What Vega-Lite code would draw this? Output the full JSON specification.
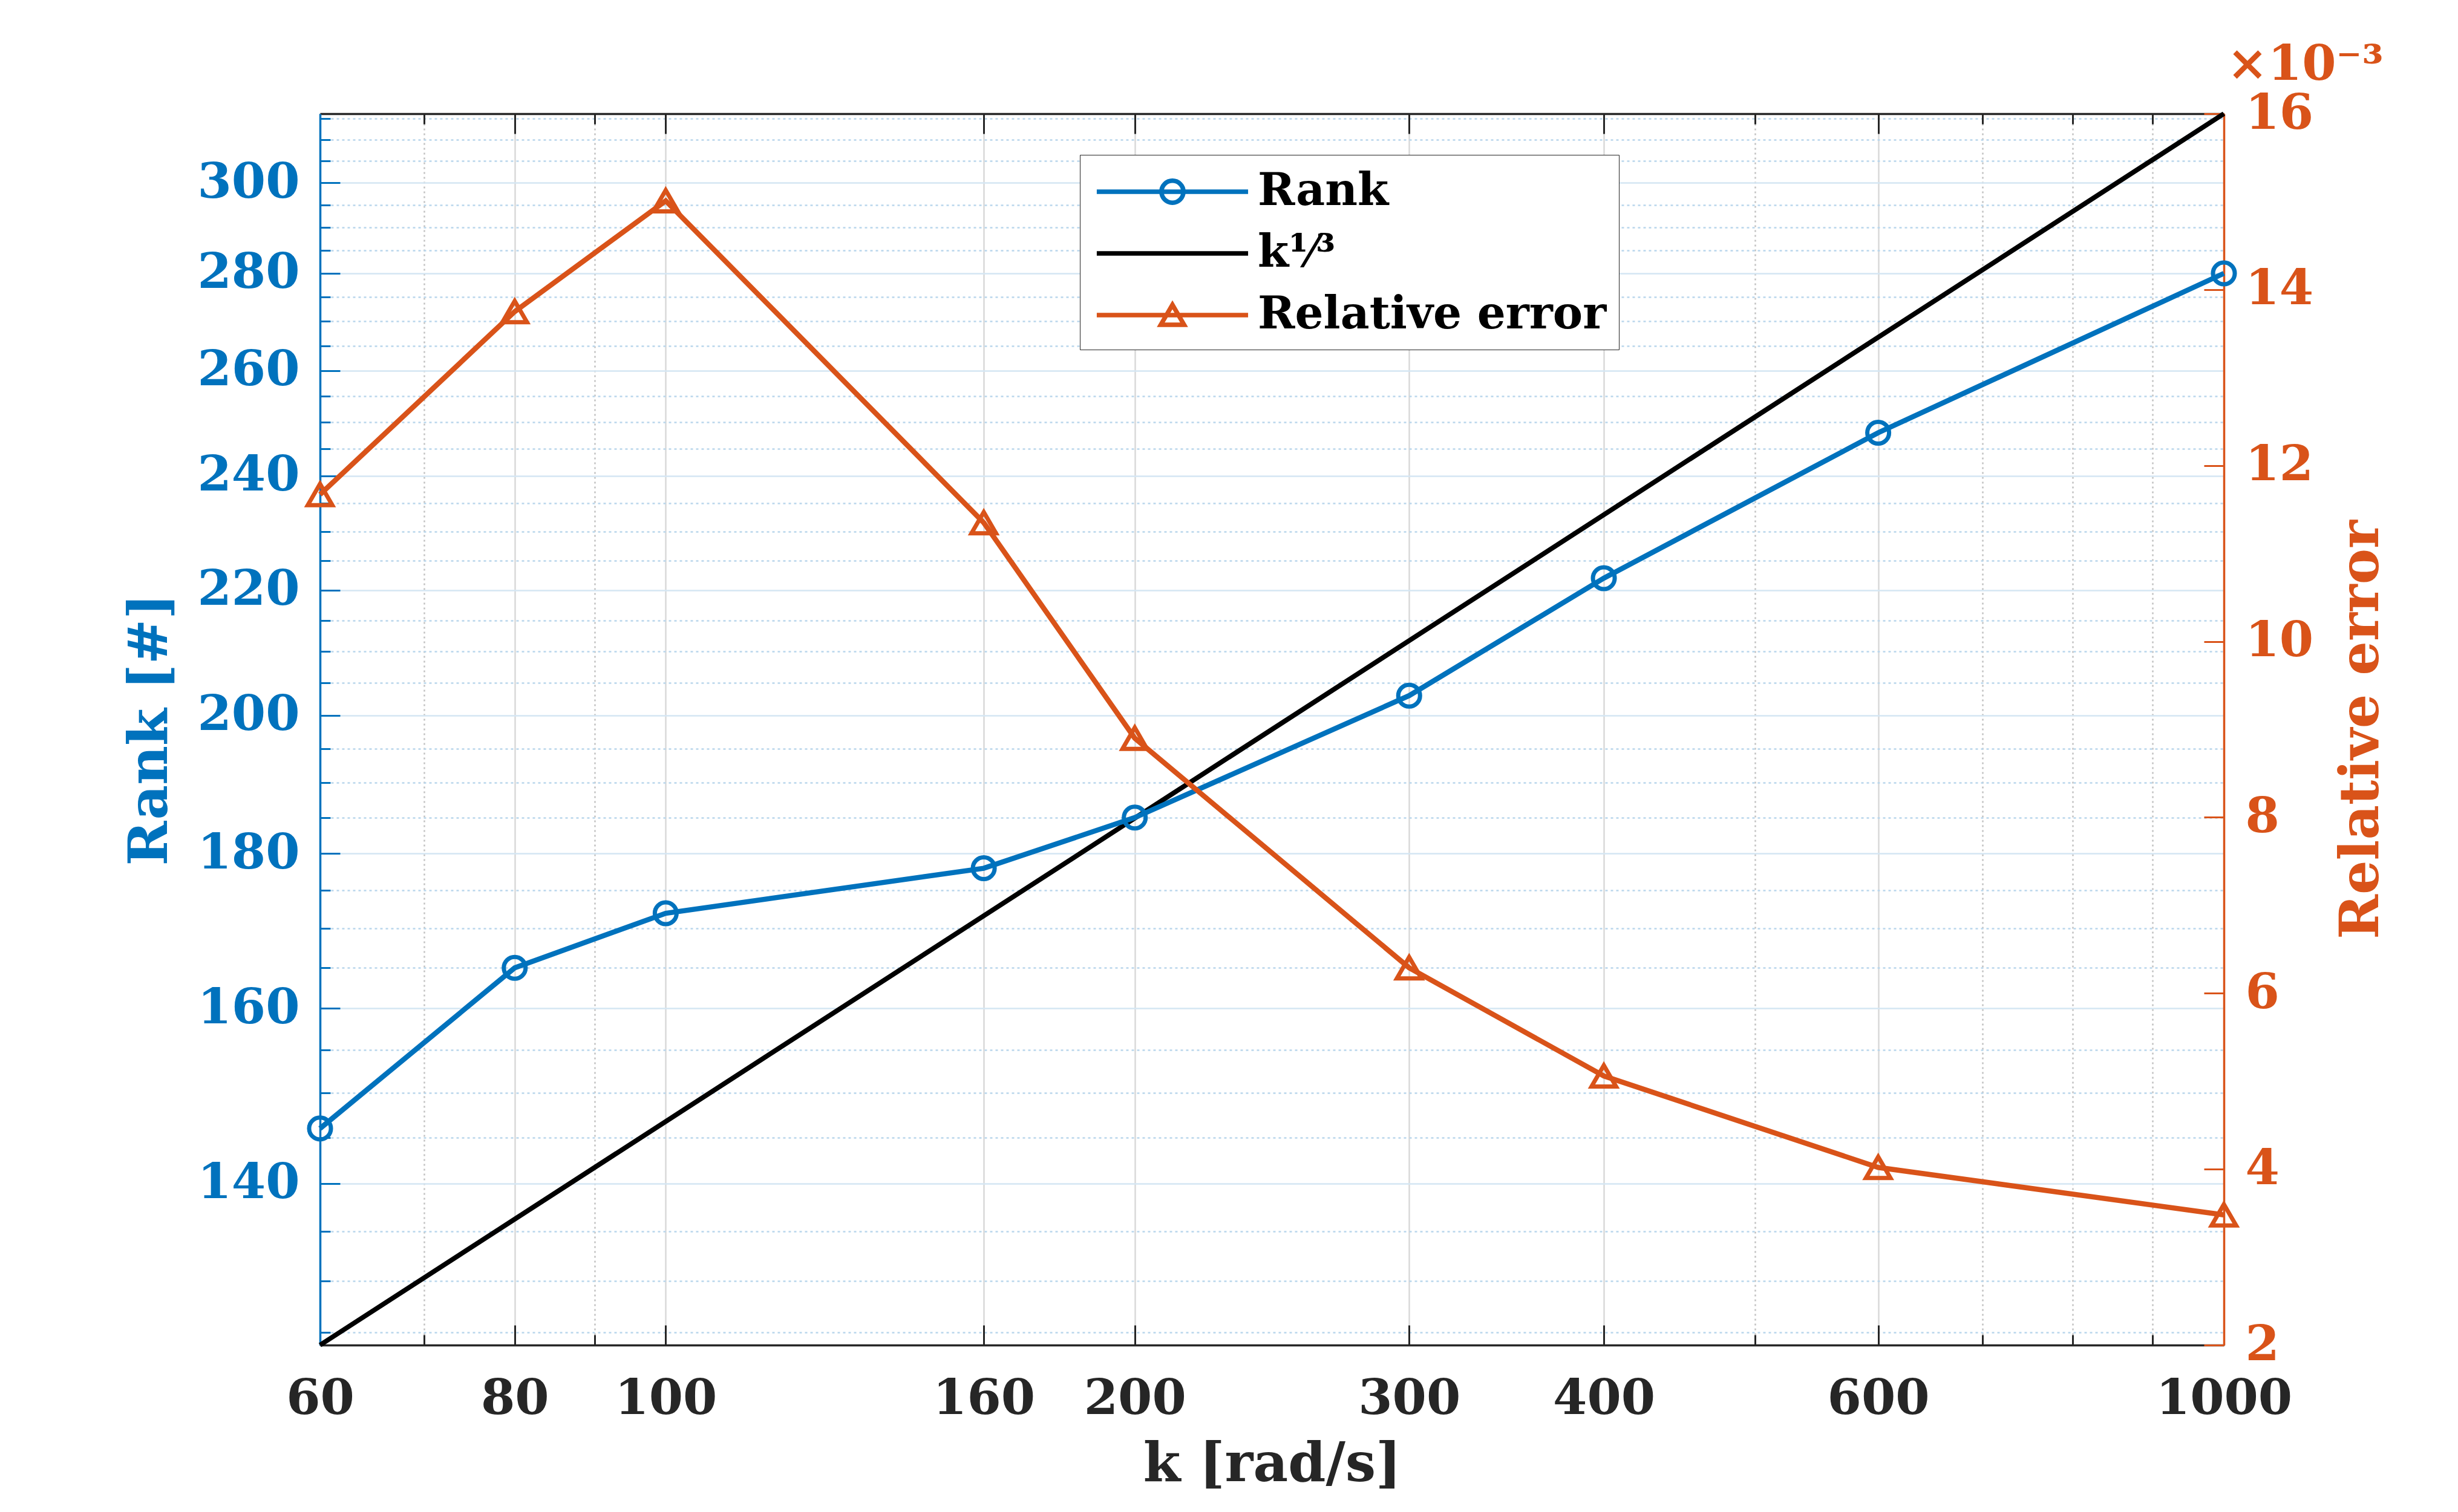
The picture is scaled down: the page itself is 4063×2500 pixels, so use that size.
{
  "$schema": "https://vega.github.io/schema/vega-lite/v6.json",
  "width": 3147,
  "height": 2036,
  "autosize": {"type": "none"},
  "padding": {"left": 529, "top": 188, "right": 387, "bottom": 276},
  "background": "white",
  "title": {"text": "×10⁻³", "anchor": "end", "frame": "group", "align": "left", "dx": 5, "dy": 112, "offset": 46, "baseline": "alphabetic", "fontSize": 81, "font": "DejaVu Serif", "fontWeight": "bold", "color": "#D95319"},
  "data": {
    "values": [
      {"k": 60, "series": "Rank", "value": 146},
      {"k": 80, "series": "Rank", "value": 165},
      {"k": 100, "series": "Rank", "value": 172},
      {"k": 160, "series": "Rank", "value": 178},
      {"k": 200, "series": "Rank", "value": 185},
      {"k": 300, "series": "Rank", "value": 203},
      {"k": 400, "series": "Rank", "value": 222},
      {"k": 600, "series": "Rank", "value": 248},
      {"k": 1000, "series": "Rank", "value": 280},
      {"k": 60, "series": "k¹⁄³", "value": 123.8},
      {"k": 1000, "series": "k¹⁄³", "value": 316.2},
      {"k": 60, "series": "Relative error", "value": 0.01167},
      {"k": 80, "series": "Relative error", "value": 0.01375},
      {"k": 100, "series": "Relative error", "value": 0.01501},
      {"k": 160, "series": "Relative error", "value": 0.01135},
      {"k": 200, "series": "Relative error", "value": 0.0089},
      {"k": 300, "series": "Relative error", "value": 0.00629},
      {"k": 400, "series": "Relative error", "value": 0.00506},
      {"k": 600, "series": "Relative error", "value": 0.00402},
      {"k": 1000, "series": "Relative error", "value": 0.00348}
    ]
  },
  "layer": [
    {
      "transform": [{"filter": "datum.series === 'k¹⁄³'"}],
      "mark": {"type": "line", "color": "#000000", "strokeWidth": 8},
      "encoding": {
        "x": {"field": "k", "type": "quantitative", "scale": {"type": "log", "domain": [60, 1000], "nice": false},
          "axis": {"orient": "bottom", "values": [70, 90, 500, 700, 800, 900], "labels": false, "domain": false, "tickSize": -17, "tickColor": "#262626", "grid": true, "gridColor": "#c2c2c2", "gridDash": [3, 5], "gridWidth": 2.5, "title": null}},
        "y": {"field": "value", "type": "quantitative", "scale": {"type": "log", "domain": [123.8, 316.2], "nice": false},
          "axis": {"orient": "left", "values": [125, 130, 135, 145, 150, 155, 165, 170, 175, 185, 190, 195, 205, 210, 215, 225, 230, 235, 245, 250, 255, 265, 270, 275, 285, 290, 295, 305, 310, 315], "labels": false, "domain": false, "tickSize": -17, "tickColor": "#0072BD", "grid": true, "gridColor": "#b9d6ec", "gridDash": [4, 5], "gridWidth": 2.5, "title": null}}
      }
    },
    {
      "transform": [{"filter": "datum.series === 'Rank'"}],
      "mark": {"type": "line", "color": "#0072BD", "strokeWidth": 8.5},
      "encoding": {
        "x": {"field": "k", "type": "quantitative", "scale": {"type": "log", "domain": [60, 1000], "nice": false},
          "axis": {"orient": "bottom", "values": [60, 80, 100, 160, 200, 300, 400, 600, 1000], "format": "d", "tickSize": -33, "tickColor": "#262626", "labelColor": "#262626", "labelPadding": 82, "labelLimit": 0, "grid": true, "gridColor": "#d9d9d9", "gridWidth": 2.5, "domain": true, "domainColor": "#262626", "title": "k [rad/s]", "titleColor": "#262626", "titlePadding": 25}},
        "y": {"field": "value", "type": "quantitative", "scale": {"type": "log", "domain": [123.8, 316.2], "nice": false},
          "axis": {"orient": "left", "values": [140, 160, 180, 200, 220, 240, 260, 280, 300], "format": "d", "tickSize": -33, "tickColor": "#0072BD", "labelColor": "#0072BD", "labelPadding": 67, "labelLimit": 0, "grid": true, "gridColor": "#d4e6f3", "gridWidth": 2.5, "domain": true, "domainColor": "#0072BD", "title": "Rank [#]", "titleColor": "#0072BD", "titlePadding": 35}}
      }
    },
    {
      "transform": [{"filter": "datum.series === 'Rank'"}],
      "mark": {"type": "point", "shape": "circle", "filled": false, "opacity": 1, "size": 1300, "strokeWidth": 7, "color": "#0072BD"},
      "encoding": {
        "x": {"field": "k", "type": "quantitative", "scale": {"type": "log", "domain": [60, 1000], "nice": false},
          "axis": {"orient": "top", "values": [60, 80, 100, 160, 200, 300, 400, 600, 1000], "labels": false, "tickSize": -33, "tickColor": "#262626", "grid": false, "domain": true, "domainColor": "#262626", "title": null}},
        "y": {"field": "value", "type": "quantitative", "scale": {"type": "log", "domain": [123.8, 316.2], "nice": false}, "axis": null}
      }
    },
    {
      "transform": [{"filter": "datum.series === 'Relative error'"}],
      "mark": {"type": "line", "color": "#D95319", "strokeWidth": 8.5},
      "encoding": {
        "x": {"field": "k", "type": "quantitative", "scale": {"type": "log", "domain": [60, 1000], "nice": false},
          "axis": {"orient": "top", "values": [70, 90, 500, 700, 800, 900], "labels": false, "tickSize": -17, "tickColor": "#262626", "grid": false, "domain": false, "title": null}},
        "y": {"field": "value", "type": "quantitative", "scale": {"type": "linear", "domain": [0.002, 0.016], "nice": false, "zero": false},
          "axis": {"orient": "right", "values": [0.002, 0.004, 0.006, 0.008, 0.01, 0.012, 0.014, 0.016], "labelExpr": "format(round(datum.value*1000), 'd')", "tickSize": -33, "tickColor": "#D95319", "labelColor": "#D95319", "labelPadding": 68, "labelLimit": 0, "grid": false, "domain": true, "domainColor": "#D95319", "title": "Relative error", "titleColor": "#D95319", "titleAngle": 270, "titleBaseline": "top", "titlePadding": 37}}
      }
    },
    {
      "transform": [{"filter": "datum.series === 'Relative error'"}],
      "mark": {"type": "point", "shape": "triangle-up", "filled": false, "opacity": 1, "size": 1650, "strokeWidth": 7, "color": "#D95319"},
      "encoding": {
        "x": {"field": "k", "type": "quantitative", "scale": {"type": "log", "domain": [60, 1000], "nice": false}, "axis": null},
        "y": {"field": "value", "type": "quantitative", "scale": {"type": "linear", "domain": [0.002, 0.016], "nice": false, "zero": false}, "axis": null}
      }
    },
    {
      "mark": {"type": "point", "filled": false, "opacity": 0, "size": 10},
      "encoding": {
        "color": {"field": "series", "type": "nominal",
          "scale": {"domain": ["Rank", "k¹⁄³", "Relative error"], "range": ["#0072BD", "#000000", "#D95319"]},
          "legend": {"title": null, "orient": "none", "legendX": 1256, "legendY": 68, "padding": 20, "rowPadding": 24, "fillColor": "white", "strokeColor": "#262626", "symbolSize": 5476, "symbolOffset": 92, "symbolStrokeWidth": 7.5, "symbolOpacity": 1, "symbolFillColor": "transparent", "labelFont": "DejaVu Serif", "labelFontWeight": "bold", "labelFontSize": 74, "labelColor": "#000000", "labelOffset": 100, "labelLimit": 0, "encode": {"legend": {"update": {"strokeWidth": {"value": 3.5}}}}}},
        "shape": {"field": "series", "type": "nominal",
          "scale": {"domain": ["Rank", "k¹⁄³", "Relative error"], "range": ["M-3.38,0L3.38,0M-0.49,0A0.49,0.49,0,1,1,0.49,0A0.49,0.49,0,1,1,-0.49,0Z", "M-3.38,0L3.38,0", "M-3.38,0L3.38,0M0,-0.46L0.52,0.43L-0.52,0.43Z"]},
          "legend": {"title": null, "orient": "none", "legendX": 1256, "legendY": 68, "padding": 20, "rowPadding": 24, "fillColor": "white", "strokeColor": "#262626", "symbolSize": 5476, "symbolOffset": 92, "symbolStrokeWidth": 7.5, "symbolOpacity": 1, "symbolFillColor": "transparent", "labelFont": "DejaVu Serif", "labelFontWeight": "bold", "labelFontSize": 74, "labelColor": "#000000", "labelOffset": 100, "labelLimit": 0, "encode": {"legend": {"update": {"strokeWidth": {"value": 3.5}}}}}}
      }
    }
  ],
  "resolve": {"scale": {"x": "shared", "y": "independent"}, "axis": {"x": "independent", "y": "independent"}},
  "config": {
    "view": {"stroke": null},
    "font": "DejaVu Serif",
    "axis": {"labelFont": "DejaVu Serif", "labelFontWeight": "bold", "labelFontSize": 81, "titleFont": "DejaVu Serif", "titleFontWeight": "bold", "titleFontSize": 89, "tickWidth": 3, "domainWidth": 3.5, "labelFlush": false, "labelOverlap": false, "zindex": 0}
  }
}
